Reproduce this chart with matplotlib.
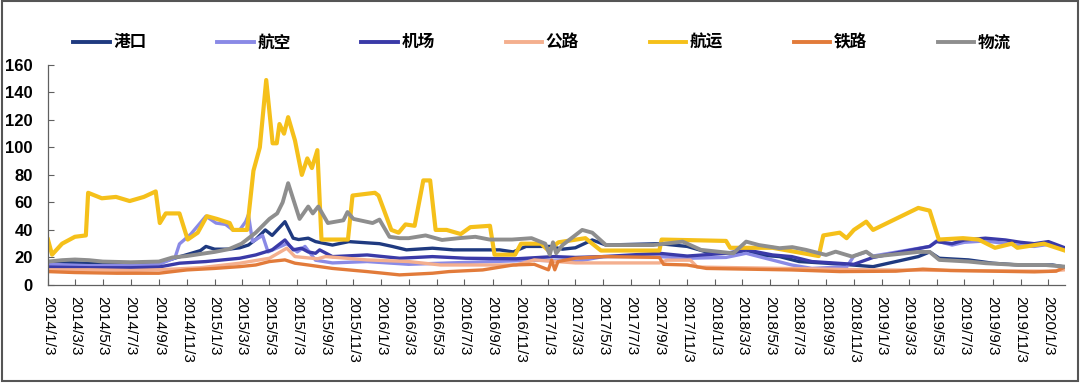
import pandas as pd
import matplotlib.pyplot as plt
from matplotlib.patches import Rectangle

plt.rcParams['font.family'] = ['Liberation Sans', 'Noto Sans CJK SC', 'DejaVu Sans']

# (date, value) pairs
port = [  # 港口
    ("2014-01-03", 17), ("2014-03-03", 16), ("2014-05-03", 15.5), ("2014-07-03", 15.5),
    ("2014-09-03", 16), ("2014-10-03", 19), ("2014-11-03", 22), ("2014-12-03", 25),
    ("2014-12-15", 28), ("2015-01-03", 26), ("2015-02-03", 26), ("2015-02-27", 27),
    ("2015-03-18", 29), ("2015-04-03", 33), ("2015-04-24", 40), ("2015-05-09", 36),
    ("2015-06-06", 46), ("2015-06-24", 34), ("2015-07-06", 33), ("2015-07-27", 34),
    ("2015-08-12", 31.5), ("2015-09-18", 29), ("2015-10-24", 31.5), ("2015-12-30", 30),
    ("2016-01-27", 28), ("2016-02-27", 25.5), ("2016-04-24", 26.7), ("2016-06-09", 25.5),
    ("2016-07-27", 25.5), ("2016-09-18", 25.5), ("2016-10-18", 24), ("2016-11-15", 28),
    ("2017-01-06", 28), ("2017-02-03", 26), ("2017-03-03", 27), ("2017-04-09", 32.7),
    ("2017-05-09", 29), ("2017-09-03", 30), ("2017-11-03", 28), ("2017-12-15", 24),
    ("2018-02-18", 23), ("2018-03-12", 25.5), ("2018-04-09", 21.8), ("2018-05-24", 20.6),
    ("2018-07-06", 17), ("2018-09-03", 15.8), ("2018-10-30", 14.5), ("2018-12-15", 13.3),
    ("2019-03-24", 20.6), ("2019-04-18", 24), ("2019-05-09", 19.4), ("2019-07-12", 18.2),
    ("2019-09-03", 15.8), ("2019-10-30", 14.5), ("2020-01-12", 14.5), ("2020-02-08", 13),
]
aviation = [  # 航空
    ("2014-01-03", 15), ("2014-04-03", 14), ("2014-07-03", 14), ("2014-09-03", 15),
    ("2014-10-08", 19.6), ("2014-10-18", 29.8), ("2014-11-12", 37), ("2014-12-15", 50),
    ("2015-01-06", 45), ("2015-01-27", 44), ("2015-02-12", 40), ("2015-02-27", 40),
    ("2015-03-12", 46), ("2015-03-18", 51), ("2015-03-27", 31.5), ("2015-04-18", 36),
    ("2015-04-30", 24), ("2015-06-10", 30), ("2015-07-03", 24), ("2015-07-20", 28),
    ("2015-08-12", 18), ("2015-09-18", 16), ("2015-12-03", 17), ("2016-03-03", 15),
    ("2016-06-03", 16), ("2016-09-03", 17), ("2016-12-03", 18), ("2017-03-03", 17),
    ("2017-05-03", 20.6), ("2017-09-03", 20.6), ("2017-11-03", 19.4), ("2018-01-27", 20),
    ("2018-03-12", 23), ("2018-04-09", 20.6), ("2018-06-20", 14.5), ("2018-08-03", 12),
    ("2018-10-03", 13), ("2018-10-18", 13), ("2018-11-03", 21), ("2018-11-30", 24),
    ("2018-12-15", 21), ("2019-04-18", 28), ("2019-05-03", 32), ("2019-06-06", 29),
    ("2019-07-03", 31), ("2019-08-18", 32), ("2019-10-03", 30), ("2019-11-03", 28.5),
    ("2019-12-03", 28), ("2020-01-03", 29.5), ("2020-02-08", 26.5),
]
airport = [  # 机场
    ("2014-01-03", 13), ("2014-04-03", 12.5), ("2014-07-03", 12.5), ("2014-09-03", 13),
    ("2014-10-18", 15.8), ("2014-12-15", 17), ("2015-02-27", 19.4), ("2015-04-03", 21.8),
    ("2015-05-09", 25.5), ("2015-06-06", 32.7), ("2015-06-24", 25.5), ("2015-07-12", 26.7),
    ("2015-07-27", 24), ("2015-08-12", 23), ("2015-08-21", 25.5), ("2015-09-18", 20.6),
    ("2015-12-03", 21.8), ("2016-02-12", 19.4), ("2016-04-24", 20.6), ("2016-07-06", 19.4),
    ("2016-10-24", 19), ("2017-01-15", 20.6), ("2017-03-03", 20), ("2017-05-03", 20.6),
    ("2017-09-03", 23), ("2017-11-03", 21), ("2018-01-27", 23), ("2018-03-12", 25.5),
    ("2018-05-09", 21.8), ("2018-06-20", 20.6), ("2018-08-03", 17), ("2018-09-18", 16),
    ("2018-11-03", 15), ("2018-12-15", 20), ("2019-04-18", 28), ("2019-05-03", 31.5),
    ("2019-06-06", 30), ("2019-07-03", 32.7), ("2019-08-18", 34), ("2019-10-01", 32.7),
    ("2019-11-03", 31), ("2019-12-03", 30), ("2020-01-03", 31.5), ("2020-02-08", 27),
]
highway = [  # 公路
    ("2014-01-03", 11), ("2014-04-03", 11), ("2014-07-03", 10.5), ("2014-09-03", 11),
    ("2014-12-03", 12.5), ("2015-02-27", 15.8), ("2015-05-03", 19.4), ("2015-06-10", 26.7),
    ("2015-06-28", 20.6), ("2015-08-16", 19), ("2015-09-03", 20.6), ("2015-12-03", 18.2),
    ("2016-03-03", 17), ("2016-05-12", 14.5), ("2016-10-24", 14.5), ("2016-12-03", 18.2),
    ("2017-03-03", 16), ("2017-09-03", 16), ("2017-09-20", 18), ("2017-11-10", 18),
    ("2017-11-25", 13), ("2018-06-03", 12), ("2018-12-03", 11), ("2019-06-03", 10.5),
    ("2020-01-03", 10), ("2020-02-08", 11),
]
shipping = [  # 航运
    ("2014-01-03", 33), ("2014-01-12", 22), ("2014-02-03", 30), ("2014-03-03", 35),
    ("2014-03-27", 36), ("2014-04-01", 67), ("2014-05-01", 63), ("2014-06-01", 64),
    ("2014-07-01", 61), ("2014-08-01", 64), ("2014-08-27", 68), ("2014-09-05", 45),
    ("2014-09-18", 52), ("2014-10-18", 52), ("2014-11-05", 33), ("2014-11-27", 38),
    ("2014-12-17", 50), ("2015-01-08", 48), ("2015-02-05", 45), ("2015-02-12", 40),
    ("2015-03-15", 40), ("2015-03-29", 83), ("2015-04-12", 100), ("2015-04-26", 149),
    ("2015-05-10", 103), ("2015-05-19", 103), ("2015-05-25", 117), ("2015-06-04", 110),
    ("2015-06-13", 122), ("2015-06-28", 105), ("2015-07-13", 80), ("2015-07-25", 92),
    ("2015-08-04", 85), ("2015-08-16", 98), ("2015-08-25", 33), ("2015-10-22", 33),
    ("2015-11-01", 65), ("2015-12-20", 67), ("2015-12-28", 65), ("2016-01-25", 40),
    ("2016-02-10", 38), ("2016-02-25", 44), ("2016-03-16", 43), ("2016-04-04", 76),
    ("2016-04-19", 76), ("2016-05-01", 40), ("2016-05-25", 40), ("2016-06-25", 37),
    ("2016-07-16", 42), ("2016-08-28", 43), ("2016-09-07", 22), ("2016-10-22", 22),
    ("2016-11-04", 30), ("2016-12-18", 30), ("2017-01-03", 25), ("2017-01-25", 31),
    ("2017-03-25", 34), ("2017-04-28", 25), ("2017-09-03", 25), ("2017-09-08", 33),
    ("2018-01-27", 32), ("2018-02-05", 27), ("2018-05-09", 27), ("2018-08-18", 21),
    ("2018-08-28", 36), ("2018-10-03", 38), ("2018-10-18", 34), ("2018-11-03", 40),
    ("2018-11-30", 46), ("2018-12-15", 40), ("2019-03-24", 56), ("2019-04-18", 54),
    ("2019-05-08", 33), ("2019-06-30", 34), ("2019-08-03", 33), ("2019-09-08", 27),
    ("2019-10-15", 30), ("2019-10-27", 27), ("2019-12-24", 30), ("2020-02-08", 25),
]
railway = [  # 铁路
    ("2014-01-03", 9.7), ("2014-03-03", 9), ("2014-06-03", 8.5), ("2014-09-03", 8.5),
    ("2014-11-03", 10.9), ("2015-01-03", 12), ("2015-02-27", 13.3), ("2015-04-03", 14.5),
    ("2015-05-03", 17), ("2015-06-06", 18.2), ("2015-06-28", 15.8), ("2015-07-27", 14.5),
    ("2015-09-18", 12), ("2015-12-03", 9.7), ("2016-02-12", 7.3), ("2016-04-24", 8.5),
    ("2016-05-30", 9.7), ("2016-08-12", 10.9), ("2016-10-18", 14.5), ("2016-12-03", 15),
    ("2017-01-03", 11), ("2017-01-10", 18), ("2017-01-17", 11), ("2017-01-24", 17),
    ("2017-03-03", 19.4), ("2017-05-03", 20.6), ("2017-09-03", 20), ("2017-09-12", 15),
    ("2017-11-03", 14.5), ("2017-12-15", 12), ("2018-06-20", 10.9), ("2018-10-03", 9.7),
    ("2019-02-03", 10), ("2019-04-03", 11.5), ("2019-06-03", 10.5), ("2019-12-03", 9.5),
    ("2020-01-20", 10), ("2020-02-08", 13),
]
logistics = [  # 物流
    ("2014-01-03", 17), ("2014-02-03", 18), ("2014-03-03", 18.5), ("2014-04-03", 18),
    ("2014-05-03", 17), ("2014-07-03", 16.5), ("2014-09-03", 17), ("2014-10-03", 20),
    ("2014-11-03", 21), ("2014-12-03", 22.5), ("2015-01-03", 24), ("2015-02-03", 26),
    ("2015-03-03", 30), ("2015-04-03", 38), ("2015-05-03", 48), ("2015-05-20", 52),
    ("2015-06-01", 60), ("2015-06-13", 74), ("2015-07-08", 48), ("2015-07-27", 57),
    ("2015-08-06", 52), ("2015-08-18", 57), ("2015-09-08", 45), ("2015-10-12", 47),
    ("2015-10-21", 53), ("2015-11-03", 48), ("2015-12-15", 45), ("2015-12-30", 47.5),
    ("2016-01-21", 35), ("2016-02-12", 34), ("2016-03-03", 34), ("2016-04-09", 36),
    ("2016-05-15", 32.7), ("2016-06-21", 34), ("2016-07-27", 35), ("2016-08-27", 33),
    ("2016-10-15", 33), ("2016-11-27", 34), ("2016-12-27", 30), ("2017-01-06", 22),
    ("2017-01-13", 31), ("2017-01-20", 23), ("2017-02-03", 29), ("2017-03-18", 40),
    ("2017-04-09", 38), ("2017-05-09", 29), ("2017-08-21", 29), ("2017-10-24", 31.5),
    ("2017-12-03", 25.5), ("2018-02-12", 23), ("2018-03-12", 31.5), ("2018-04-09", 29),
    ("2018-05-24", 26.7), ("2018-06-21", 27.5), ("2018-07-21", 25.5), ("2018-09-03", 21.8),
    ("2018-09-24", 24.2), ("2018-10-30", 20.6), ("2018-11-30", 24.2), ("2018-12-15", 20.6),
    ("2019-03-24", 24), ("2019-04-18", 24), ("2019-05-09", 18.2), ("2019-07-12", 17),
    ("2019-08-18", 15.8), ("2019-10-30", 14.5), ("2019-12-27", 14.5), ("2020-02-08", 13.3),
]

names = ["港口", "航空", "机场", "公路", "航运", "铁路", "物流"]
series = [port, aviation, airport, highway, shipping, railway, logistics]
colors = ["#1F3A80", "#8A8AE6", "#3A3AA8", "#F4AF8E", "#F5C01A", "#E27B3A", "#8E8E8E"]
widths = [2.4, 2.4, 2.4, 2.4, 3.0, 2.4, 2.8]

tick_labels = [f"{y}/{m}/3" for y in range(2014, 2021) for m in (1, 3, 5, 7, 9, 11)][:37]
tick_dates = pd.to_datetime([t.replace("/", "-") for t in tick_labels], format="%Y-%m-%d")

fig = plt.figure(figsize=(10.8, 3.84), dpi=100)
ax = fig.add_axes([0.0444, 0.258, 0.942, 0.573])

for name, data, c, lw in zip(names, series, colors, widths):
    d, v = zip(*data)
    ax.plot(pd.to_datetime(list(d)), v, color=c, lw=lw, label=name, solid_joinstyle="round")

ax.set_ylim(0, 160)
ax.set_yticks(range(0, 161, 20))
ax.set_xlim(pd.Timestamp("2014-01-03"), pd.Timestamp("2020-02-09"))
ax.set_xticks(tick_dates)
ax.set_xticklabels(tick_labels, rotation=-90, fontsize=11)
for lab in ax.get_yticklabels():
    lab.set_fontweight("bold")
    lab.set_fontsize(12)
ax.tick_params(axis="both", direction="in", length=4, color="#606060")
ax.tick_params(axis="x", pad=8)
ax.tick_params(axis="y", pad=11)
for s in ("top", "right"):
    ax.spines[s].set_visible(False)
for s in ("left", "bottom"):
    ax.spines[s].set_color("#606060")
    ax.spines[s].set_linewidth(0.9)

leg = fig.legend(loc="center", bbox_to_anchor=(0.502, 0.89), ncol=7, frameon=False,
                 handlelength=2.2, columnspacing=4.25, handletextpad=0.2,
                 prop={"weight": "bold", "size": 12})
for h in leg.get_lines():
    h.set_linewidth(2.8)

fig.patches.append(Rectangle((0.002, 0.008), 0.996, 0.99, transform=fig.transFigure,
                             fill=False, edgecolor="#555555", lw=1.5))

fig.savefig("out.png", dpi=100)
